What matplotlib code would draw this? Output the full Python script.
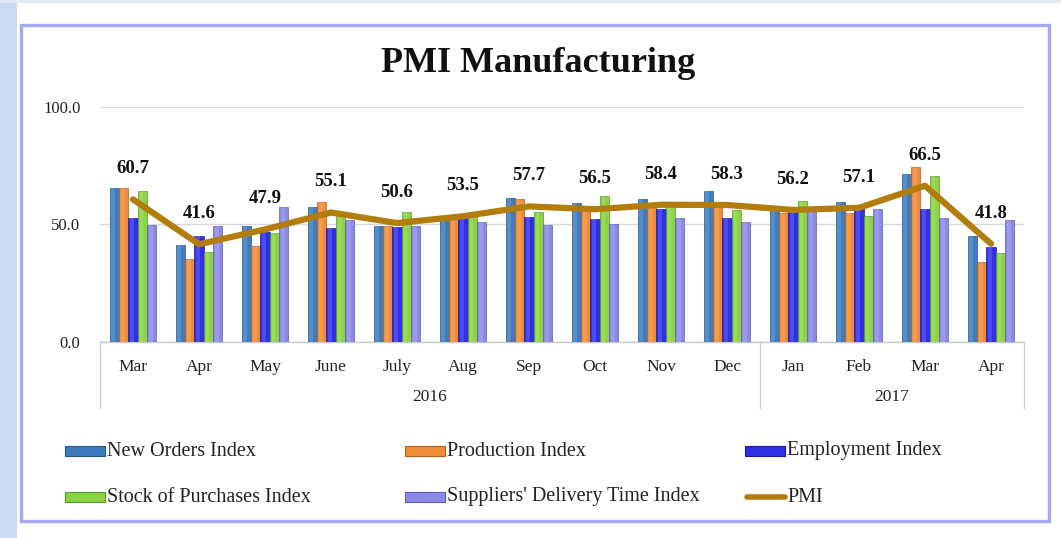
import numpy as np
import matplotlib.pyplot as plt
import matplotlib.transforms as mtransforms
from matplotlib.patches import Rectangle
from matplotlib.lines import Line2D

months = ["Mar", "Apr", "May", "June", "July", "Aug", "Sep", "Oct", "Nov", "Dec",
          "Jan", "Feb", "Mar", "Apr"]
years = ["2016", "2017"]
year_counts = [10, 4]

new_orders = [65.4, 41.3, 49.4, 57.3, 49.4, 52.5, 61.4, 59.3, 60.9, 64.3, 55.7, 59.4, 71.5, 45.1]
production = [65.6, 35.2, 41.0, 59.4, 49.5, 54.0, 61.0, 57.0, 59.0, 59.4, 55.0, 54.8, 74.3, 34.2]
employment = [52.9, 45.1, 46.9, 48.4, 49.0, 53.5, 53.3, 52.2, 56.5, 52.9, 55.7, 58.3, 56.6, 40.3]
stock = [64.4, 38.2, 46.5, 54.0, 55.3, 55.5, 55.5, 62.3, 58.0, 56.2, 60.1, 53.6, 70.6, 38.0]
suppliers = [49.9, 49.4, 57.3, 52.1, 49.4, 51.2, 49.8, 50.2, 52.9, 50.9, 55.7, 56.6, 52.9, 51.9]
pmi = [60.7, 41.6, 47.9, 55.1, 50.6, 53.5, 57.7, 56.5, 58.4, 58.3, 56.2, 57.1, 66.5, 41.8]

series = [
    ("New Orders Index", new_orders, "#3d7cbf", "#24578f"),
    ("Production Index", production, "#f08b3a", "#b45f1c"),
    ("Employment Index", employment, "#2f30e6", "#1a1aa0"),
    ("Stock of Purchases Index", stock, "#8bd445", "#5a9a24"),
    ("Suppliers' Delivery Time Index", suppliers, "#8a8ae6", "#5c5cb8"),
]
pmi_color = "#b27d0c"

serif = "Liberation Serif"
W, H = 1061, 538

fig = plt.figure(figsize=(W / 100, H / 100), dpi=100)
fig.patch.set_facecolor("white")

def fx(px):
    return px / W

def fy(py):
    return 1 - py / H

# page decorations: light blue strip on left / top and the lavender frame
fig.add_artist(Rectangle((0, 0), fx(17), 1, transform=fig.transFigure,
                         facecolor="#c9dcf1", edgecolor="none", zorder=0))
fig.add_artist(Rectangle((0, fy(3)), 1, 3 / H, transform=fig.transFigure,
                         facecolor="#dde9f5", edgecolor="none", zorder=0))
fig.add_artist(Rectangle((fx(21), fy(521)), fx(1049 - 21), (521 - 25) / H,
                         transform=fig.transFigure, facecolor="white",
                         edgecolor="#a7a7f3", linewidth=2.4, zorder=1))

ax = fig.add_axes([fx(100), fy(342), fx(1024 - 100), (342 - 107) / H])
ax.set_zorder(2)
ax.patch.set_alpha(0)

x = np.arange(len(months))
w = 0.142
for i, (name, vals, col, edge) in enumerate(series):
    off = (i - 2) * w
    ax.bar(x + off, vals, width=w, color=col, edgecolor=edge, linewidth=0.5, zorder=3)
    # soft highlight to mimic the bevelled look
    ax.bar(x + off - w * 0.1, vals, width=w * 0.4, color="white", alpha=0.14,
           linewidth=0, zorder=3.5)

ax.plot(x, pmi, color=pmi_color, linewidth=4.5, solid_joinstyle="round",
        solid_capstyle="round", zorder=4)
for xi, v in zip(x, pmi):
    ax.annotate(f"{v:.1f}", (xi, v), xytext=(0, 22), textcoords="offset points",
                ha="center", va="center", fontsize=13.5, fontweight="bold",
                family=serif, color="#111111", zorder=5)

ax.set_xlim(-0.5, len(months) - 0.5)
ax.set_ylim(0, 100)
ax.set_yticks([0, 50, 100])
ax.set_yticklabels(["0.0", "50.0", "100.0"], family=serif, fontsize=12)
ax.yaxis.grid(True, color="#d9d9d9", linewidth=1.0, zorder=0)
ax.set_axisbelow(True)
ax.tick_params(axis="y", length=0, pad=14, colors="#222222")
ax.set_xticks(x)
ax.set_xticklabels(months, family=serif, fontsize=12.5)
ax.tick_params(axis="x", length=0, pad=12, colors="#222222")
for s in ["top", "right", "left"]:
    ax.spines[s].set_visible(False)
ax.spines["bottom"].set_color("#c8c8c8")
ax.spines["bottom"].set_linewidth(1.0)

# second level of the category axis
trans = mtransforms.blended_transform_factory(ax.transData, ax.transAxes)
start = 0
edges = [-0.5]
for yr, n in zip(years, year_counts):
    ax.text(start + (n - 1) / 2, -0.235, yr, transform=trans, ha="center",
            va="center", family=serif, fontsize=12.5, color="#222222")
    start += n
    edges.append(start - 0.5)
for e in edges:
    ax.plot([e, e], [0, -0.28], transform=trans, color="#d0d0d0",
            linewidth=1.0, clip_on=False)

fig.text(fx(538), fy(63), "PMI Manufacturing", ha="center", va="center",
         family=serif, fontsize=26, fontweight="bold", color="#111111")

# legend laid out in three columns, two rows
leg_cols = [65, 405, 745]
leg_rows = [451, 497]
entries = [(n, c, e) for n, _, c, e in series] + [("PMI", None, None)]
for k, (name, col, edge) in enumerate(entries):
    cx = leg_cols[k % 3]
    cy = leg_rows[k // 3]
    if col is not None:
        fig.add_artist(Rectangle((fx(cx), fy(cy + 5)), fx(40), 10 / H,
                                 transform=fig.transFigure, facecolor=col,
                                 edgecolor=edge, linewidth=0.8, zorder=3))
    else:
        fig.add_artist(Line2D([fx(cx + 2), fx(cx + 40)], [fy(cy), fy(cy)],
                              transform=fig.transFigure, color=pmi_color,
                              linewidth=4, solid_capstyle="round", zorder=3))
    fig.text(fx(cx + 42), fy(cy), name, ha="left", va="center", family=serif,
             fontsize=14.5, color="#222222", zorder=3)

fig.savefig("out.png", dpi=100)
